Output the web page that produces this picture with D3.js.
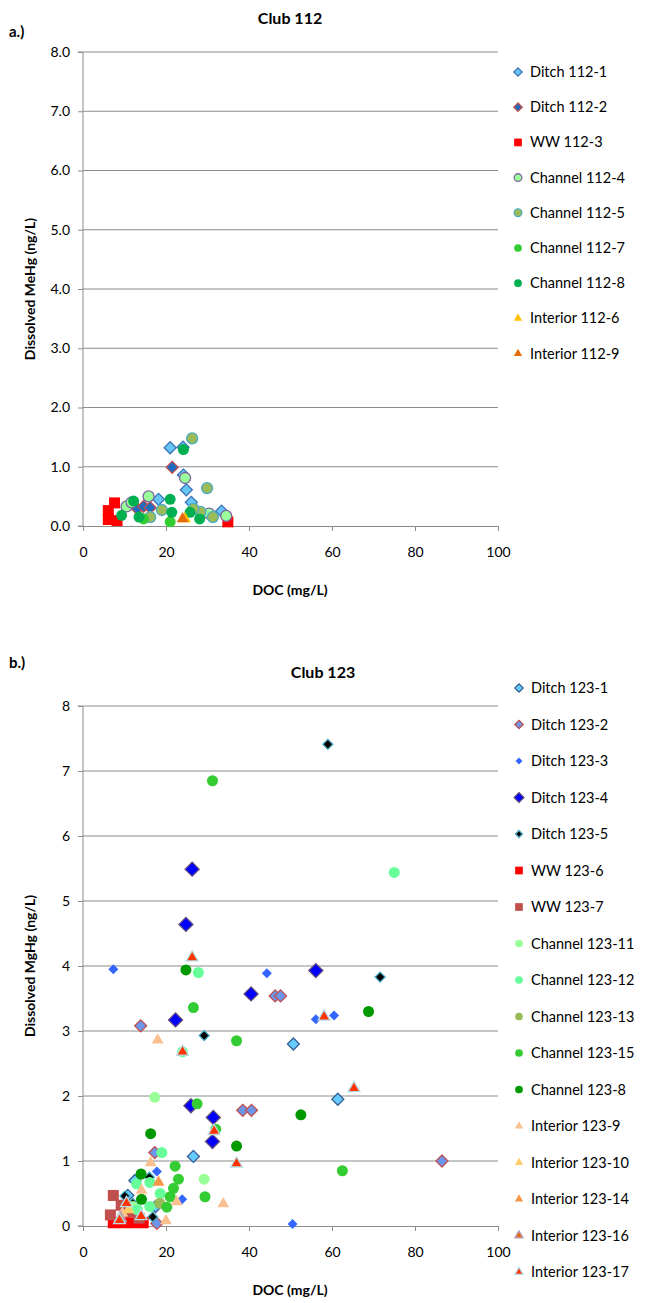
<!DOCTYPE html>
<html>
<head>
<meta charset="utf-8">
<script src="https://cdn.jsdelivr.net/npm/d3@7"></script>
<style>
  body { margin: 0; background: #fff; }
  svg { display: block; font-family: Lato, "Liberation Sans", sans-serif; }
</style>
</head>
<body>
<div id="chart"></div>
<script>
// ---- Club 112 data (DOC mg/L, MeHg ng/L) ----
const ditch112_1 = [[21.0,1.32],[24.1,1.33],[24.2,0.86],[24.9,0.61],[26.1,0.40],[18.2,0.45],[33.4,0.25]];
const ditch112_2 = [[21.5,0.99],[13.1,0.29],[14.6,0.33],[16.2,0.31]];
const ww112_3 = [[7.6,0.39],[6.1,0.26],[6.1,0.11],[8.2,0.09],[34.9,0.07]];
const channel112_4 = [[24.6,0.81],[15.8,0.50],[10.5,0.33],[30.4,0.21],[34.5,0.17],[11.7,0.40]];
const channel112_5 = [[26.3,1.48],[29.9,0.64],[19.0,0.27],[16.2,0.15],[28.3,0.24],[31.3,0.15],[26.6,0.29]];
const channel112_7 = [[21.0,0.07],[14.6,0.12]];
const channel112_8 = [[24.2,1.29],[21.0,0.45],[21.4,0.23],[25.8,0.23],[28.1,0.12],[9.3,0.18],[13.5,0.15],[12.2,0.42]];
const interior112_6 = [[24.6,0.12]];
const interior112_9 = [[24.0,0.12]];

// ---- Club 123 data ----
const ditch123_1 = [[26.6,1.07],[50.7,2.80],[61.4,1.95],[12.5,0.70],[10.8,0.47],[17.5,0.30]];
const ditch123_2 = [[13.9,3.08],[46.3,3.54],[47.6,3.54],[38.5,1.78],[40.6,1.78],[86.5,1.00],[17.3,1.13],[17.8,0.04]];
const ditch123_3 = [[7.3,3.95],[44.3,3.89],[56.1,3.18],[60.5,3.24],[17.8,0.84],[23.9,0.41],[50.5,0.03],[12.5,0.20]];
const ditch123_4 = [[26.3,5.49],[24.8,4.64],[40.5,3.57],[56.1,3.93],[22.3,3.17],[26.0,1.85],[31.4,1.67],[31.2,1.30]];
const ditch123_5 = [[59.0,7.41],[71.6,3.83],[29.2,2.93],[16.0,0.75],[10.1,0.46],[16.8,0.14],[12.0,0.35]];
const ww123_6 = [[7.3,0.05],[9.7,0.05],[12.1,0.05],[14.5,0.05]];
const ww123_7 = [[7.3,0.47],[6.6,0.17],[9.2,0.32],[11.5,0.22],[13.5,0.12]];
const channel123_11 = [[17.3,1.98],[29.2,0.72],[12.0,0.30]];
const channel123_12 = [[75.0,5.44],[27.8,3.90],[24.0,2.68],[19.0,1.13],[16.1,0.67],[12.9,0.65],[18.6,0.50],[13.1,0.25],[16.1,0.30]];
const channel123_13 = [[18.5,0.35]];
const channel123_15 = [[31.2,6.85],[26.6,3.36],[37.0,2.85],[27.5,1.88],[32.0,1.49],[22.2,0.92],[23.0,0.72],[21.8,0.58],[21.0,0.45],[29.4,0.45],[20.2,0.29],[62.5,0.85]];
const channel123_8 = [[24.8,3.94],[68.8,3.30],[52.5,1.71],[16.3,1.42],[37.0,1.23],[14.0,0.80],[14.1,0.41]];
const interior123_9 = [[18.0,2.86],[16.3,0.97],[14.1,0.55],[33.8,0.34],[22.6,0.37],[20.0,0.08],[9.5,0.20]];
const interior123_10 = [[11.0,0.25]];
const interior123_14 = [[18.2,0.67]];
const interior123_16 = [[9.0,0.12]];
const interior123_17 = [[26.3,4.13],[58.1,3.22],[65.3,2.12],[24.0,2.68],[31.6,1.46],[37.0,0.96],[10.5,0.35],[8.8,0.09],[14.0,0.15]];

const xTicks = [0, 20, 40, 60, 80, 100];
const yTicks = [0, 1, 2, 3, 4, 5, 6, 7, 8];

// series: name, data, marker shape, fill, stroke, half-size
const series112 = [
    { name: "Ditch 112-1", data: ditch112_1, shape: "diamond", fill: "#66c6f5", stroke: "#3b74b8", r: 6 },
    { name: "Ditch 112-2", data: ditch112_2, shape: "diamond", fill: "#1f6bc0", stroke: "#c0504d", r: 6 },
    { name: "WW 112-3", data: ww112_3, shape: "square", fill: "#ff0000", stroke: "none", r: 5.5 },
    { name: "Channel 112-4", data: channel112_4, shape: "circle", fill: "#99ff99", stroke: "#8064a2", r: 5.5 },
    { name: "Channel 112-5", data: channel112_5, shape: "circle", fill: "#9bbb59", stroke: "#4bacc6", r: 5.5 },
    { name: "Channel 112-7", data: channel112_7, shape: "circle", fill: "#33cc33", stroke: "none", r: 5.5 },
    { name: "Channel 112-8", data: channel112_8, shape: "circle", fill: "#00b050", stroke: "none", r: 5.5 },
    { name: "Interior 112-6", data: interior112_6, shape: "triangle", fill: "#ffc000", stroke: "none", r: 6 },
    { name: "Interior 112-9", data: interior112_9, shape: "triangle", fill: "#e36c09", stroke: "none", r: 6 }
];

const series123 = [
    { name: "Ditch 123-1", data: ditch123_1, shape: "diamond", fill: "#66ccff", stroke: "#376092", r: 6 },
    { name: "Ditch 123-2", data: ditch123_2, shape: "diamond", fill: "#6c96ec", stroke: "#c0504d", r: 6 },
    { name: "Ditch 123-3", data: ditch123_3, shape: "diamond", fill: "#3366ff", stroke: "none", r: 5 },
    { name: "Ditch 123-4", data: ditch123_4, shape: "diamond", fill: "#0000ff", stroke: "#604a7b", r: 7 },
    { name: "Ditch 123-5", data: ditch123_5, shape: "diamond", fill: "#000000", stroke: "#4bacc6", r: 5 },
    { name: "WW 123-6", data: ww123_6, shape: "square", fill: "#ff0000", stroke: "none", r: 5.5 },
    { name: "WW 123-7", data: ww123_7, shape: "square", fill: "#c0504d", stroke: "none", r: 5.5 },
    { name: "Channel 123-11", data: channel123_11, shape: "circle", fill: "#99ff99", stroke: "none", r: 5.5 },
    { name: "Channel 123-12", data: channel123_12, shape: "circle", fill: "#66ff99", stroke: "none", r: 5.5 },
    { name: "Channel 123-13", data: channel123_13, shape: "circle", fill: "#9bbb59", stroke: "none", r: 5.5 },
    { name: "Channel 123-15", data: channel123_15, shape: "circle", fill: "#33cc33", stroke: "none", r: 5.5 },
    { name: "Channel 123-8", data: channel123_8, shape: "circle", fill: "#009900", stroke: "none", r: 5.5 },
    { name: "Interior 123-9", data: interior123_9, shape: "triangle", fill: "#fac090", stroke: "none", r: 6 },
    { name: "Interior 123-10", data: interior123_10, shape: "triangle", fill: "#ffcc66", stroke: "none", r: 6 },
    { name: "Interior 123-14", data: interior123_14, shape: "triangle", fill: "#f79646", stroke: "none", r: 6 },
    { name: "Interior 123-16", data: interior123_16, shape: "triangle", fill: "#e36c09", stroke: "#b3a2c7", r: 6 },
    { name: "Interior 123-17", data: interior123_17, shape: "triangle", fill: "#ff3300", stroke: "#b7dee8", r: 6 }
];

const W = 645, H = 1303;
const svg = d3.select("#chart").append("svg").attr("width", W).attr("height", H);

// marker path around 0,0 with half-size r
function markerPath(shape, r) {
    if (shape === "diamond") return d3.symbol(d3.symbolSquare, 2 * r * r)();
    if (shape === "square") return d3.symbol(d3.symbolSquare, 4 * r * r)();
    if (shape === "circle") return d3.symbol(d3.symbolCircle, Math.PI * r * r)();
    return d3.symbol(d3.symbolTriangle, 1.3 * r * r * 1.3)();
}
function drawMarker(g, s, x, y, scale) {
    const r = s.r * scale;
    g.append("path")
        .attr("d", markerPath(s.shape, r))
        .attr("transform", `translate(${x},${y})` + (s.shape === "diamond" ? " rotate(45)" : ""))
        .attr("fill", s.fill)
        .attr("stroke", s.stroke)
        .attr("stroke-width", s.stroke === "none" ? 0 : 1.3);
}

function drawChart(opt) {
    const x = d3.scaleLinear().domain([0, 100]).range([83, 498]);
    const y = d3.scaleLinear().domain([0, 8]).range([opt.bottom, opt.top]);
    const g = svg.append("g");

    // gridlines
    g.selectAll(".grid").data(yTicks.filter(d => d > 0)).enter().append("line")
        .attr("x1", 83).attr("x2", 498)
        .attr("y1", d => y(d)).attr("y2", d => y(d))
        .attr("stroke", "#8c8c8c").attr("stroke-width", 1);

    // y axis
    const yAxis = g.append("g").attr("transform", "translate(83,0)")
        .call(d3.axisLeft(y).tickValues(yTicks).tickSize(5).tickPadding(8)
            .tickFormat(d => opt.decimals ? d3.format(".1f")(d) : d));
    // x axis
    const xAxis = g.append("g").attr("transform", `translate(0,${opt.bottom})`)
        .call(d3.axisBottom(x).tickValues(xTicks).tickSize(5).tickPadding(16));
    [yAxis, xAxis].forEach(a => {
        a.select(".domain").attr("stroke", "#8c8c8c");
        a.selectAll(".tick line").attr("stroke", "#8c8c8c");
        a.selectAll("text").attr("fill", "#000").style("font-size", "14px")
            .style("font-family", "Lato, sans-serif");
    });
    yAxis.select(".domain").attr("d", `M-5,${opt.bottom}H0V${opt.top}H-5`);

    // points
    const pts = g.append("g");
    opt.series.forEach(s => {
        s.data.forEach(d => drawMarker(pts, s, x(d[0]), y(d[1]), 1));
    });

    // titles
    g.append("text").attr("x", opt.titleX).attr("y", opt.top - 28)
        .attr("text-anchor", "middle").style("font-weight", "bold").style("font-size", "16px")
        .text(opt.title);
    g.append("text").attr("x", 9).attr("y", opt.labelY)
        .style("font-weight", "bold").style("font-size", "15px").text(opt.label);
    g.append("text").attr("x", 290).attr("y", opt.bottom + 69)
        .attr("text-anchor", "middle").style("font-weight", "bold").style("font-size", "14px")
        .text("DOC (mg/L)");
    g.append("text")
        .attr("transform", `translate(35,${(opt.top + opt.bottom) / 2}) rotate(-90)`)
        .attr("text-anchor", "middle").style("font-weight", "bold").style("font-size", "14px")
        .text(opt.yTitle);

    // legend
    const leg = g.append("g");
    opt.series.forEach((s, i) => {
        const ly = opt.legTop + i * opt.legStep;
        drawMarker(leg, s, opt.legX, ly, 0.7);
        leg.append("text").attr("x", opt.legX + 12).attr("y", ly + 5)
            .style("font-size", "14.5px").text(s.name);
    });
}

drawChart({
    series: series112, top: 52, bottom: 526, decimals: true,
    title: "Club 112", titleX: 290, label: "a.)", labelY: 37,
    yTitle: "Dissolved MeHg (ng/L)", legX: 518, legTop: 72, legStep: 35.2
});
drawChart({
    series: series123, top: 706, bottom: 1226, decimals: false,
    title: "Club 123", titleX: 323, label: "b.)", labelY: 668,
    yTitle: "Dissolved MgHg (ng/L)", legX: 519, legTop: 688, legStep: 36.5
});
</script>
</body>
</html>
